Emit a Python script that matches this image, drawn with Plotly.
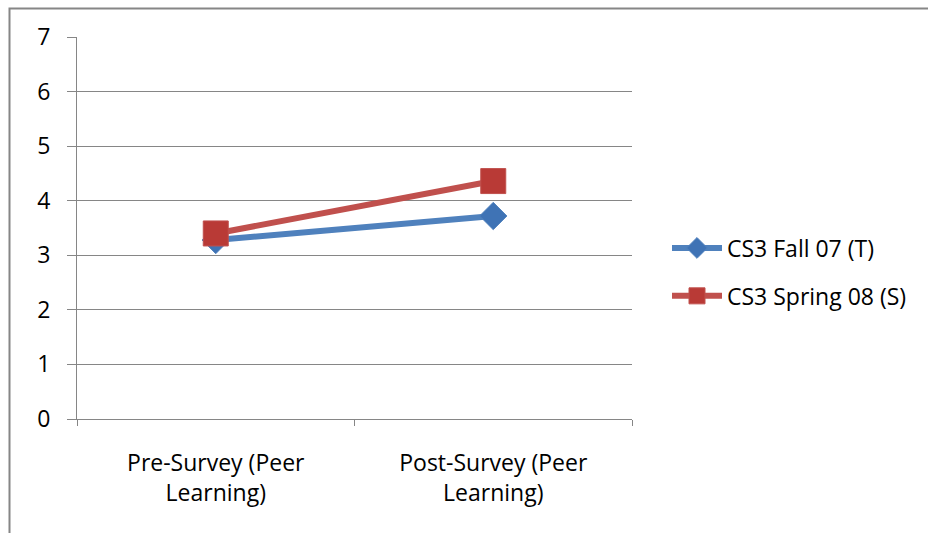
import plotly.graph_objects as go

categories = ["Pre-Survey (Peer<br>Learning)", "Post-Survey (Peer<br>Learning)"]
series_names = ["CS3 Fall 07 (T)", "CS3 Spring 08 (S)"]
fall07 = [3.28, 3.72]
spring08 = [3.40, 4.36]
y_ticks = [0, 1, 2, 3, 4, 5, 6, 7]

W, H = 928, 533
L, R, T, B = 77, 296, 37, 114
pw, ph = W - L - R, H - T - B

fig = go.Figure()
fig.add_trace(go.Scatter(
    x=categories, y=fall07, name=series_names[0], mode="lines+markers",
    legendgroup="a",
    line=dict(color="#4F81BD", width=6),
    marker=dict(symbol="diamond", size=21, color="#3F73B5", line=dict(color="#4F81BD", width=1)),
))
fig.add_trace(go.Scatter(
    x=categories, y=spring08, name=series_names[1], mode="lines+markers",
    legendgroup="b",
    line=dict(color="#C0504D", width=6),
    marker=dict(symbol="square", size=25, color="#B93A36", line=dict(color="#C0504D", width=1)),
))

font = dict(family="Open Sans, Liberation Sans, sans-serif", size=23, color="#000000")

fig.update_layout(
    width=W, height=H,
    margin=dict(l=L, r=R, t=T, b=B),
    paper_bgcolor="white", plot_bgcolor="white",
    font=font,
    showlegend=True,
    legend=dict(
        x=(667 - L) / pw, xanchor="left",
        y=(419 - 272) / ph, yanchor="middle",
        font=font, bgcolor="rgba(0,0,0,0)",
        traceorder="grouped", tracegroupgap=15, itemwidth=50,
    ),
    xaxis=dict(
        type="category", range=[-0.5, 1.5], tickson="boundaries",
        showgrid=False, showline=True, linecolor="#868686", linewidth=1,
        ticks="outside", ticklen=6, tickcolor="#868686",
        tickfont=font, zeroline=False, ticklabelstandoff=23,
    ),
    yaxis=dict(
        range=[0, 7], tickvals=y_ticks, showgrid=True, gridcolor="#868686", gridwidth=1,
        showline=True, linecolor="#868686", linewidth=1,
        ticks="outside", ticklen=9, tickcolor="#868686",
        tickfont=font, zeroline=False, ticklabelstandoff=12,
    ),
    shapes=[dict(
        type="rect", xref="paper", yref="paper",
        x0=(9.5 - L) / pw, x1=(960 - L) / pw,
        y0=(419 - 560) / ph, y1=(419 - 8.5) / ph,
        line=dict(color="#868686", width=2), fillcolor="rgba(0,0,0,0)", layer="below",
    )],
)

fig.write_html("out.html")
